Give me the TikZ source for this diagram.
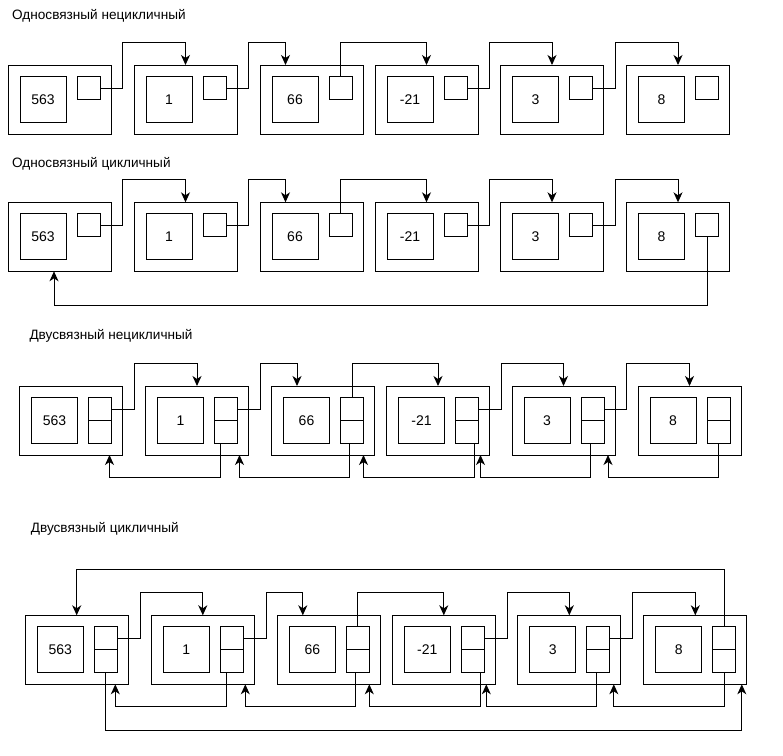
\documentclass[tikz,border=0pt]{standalone}
\usepackage{fontspec}
\setmainfont{Liberation Sans}
\usetikzlibrary{arrows.meta}
\tikzset{
 outerbox/.style={draw=black, line width=1pt, minimum width=103pt, minimum height=69pt, inner sep=0pt, outer sep=0pt, anchor=north west},
 valbox/.style={draw=black, line width=1pt, minimum width=46pt, minimum height=46pt, inner sep=0pt, outer sep=0pt, anchor=north west, font=\fontsize{14}{16}\selectfont},
 ptrbox/.style={draw=black, line width=1pt, minimum width=23pt, inner sep=0pt, outer sep=0pt, anchor=north west},
 divider/.style={draw=black, line width=1pt},
 link/.style={draw=black, line width=1pt, -{Stealth[length=10pt,width=9pt,inset=3pt]}},
 rowtitle/.style={anchor=base west, inner sep=0pt, font=\fontsize{13.6}{16}\selectfont},
}
% #1 row name, #2 x shift, #3 top y, #4 pointer height
\newcommand{\mkrow}[4]{%
 \foreach \L/\v [count=\i] in {8/563,134/1,260/66,375/-21,500.5/3,626.5/8}{
   \node[outerbox] (#1b\i) at (\L+#2, #3) {};
   \node[valbox] (#1v\i) at (\L+#2+12, #3+11.5) {\v};
   \node[ptrbox, minimum height=#4pt] (#1p\i) at (\L+#2+69, #3+11.5) {};
 }}
% forward links: #1 row, #2 yshift of start from pointer east
\newcommand{\mkforward}[2]{%
 \draw[link] ([yshift=#2pt]#1p1.east) -- ++(22.7,0) |- ([xshift=51.5pt,yshift=22.5pt]#1b2.north west) -- ([xshift=51.5pt]#1b2.north west);
 \draw[link] ([yshift=#2pt]#1p2.east) -- ++(22.7,0) |- ([xshift=25.5pt,yshift=22.5pt]#1b3.north west) -- ([xshift=25.5pt]#1b3.north west);
 \draw[link] (#1p3.north) |- ([xshift=51.5pt,yshift=22.5pt]#1b4.north west) -- ([xshift=51.5pt]#1b4.north west);
 \draw[link] ([yshift=#2pt]#1p4.east) -- ++(22.7,0) |- ([xshift=51.5pt,yshift=22.5pt]#1b5.north west) -- ([xshift=51.5pt]#1b5.north west);
 \draw[link] ([yshift=#2pt]#1p5.east) -- ++(22.7,0) |- ([xshift=51.5pt,yshift=22.5pt]#1b6.north west) -- ([xshift=51.5pt]#1b6.north west);
}
% backward links
\newcommand{\mkback}[1]{%
 \foreach \j/\o/\d [evaluate=\j as \k using int(\j-1)] in {2/6/13,3/9/9,4/19/11,5/9.5/9,6/11.5/7}{
   \draw[link] ([xshift=\o pt]#1p\j.south west) |- ([xshift=-\d pt,yshift=-22.5pt]#1b\k.south east) -- ([xshift=-\d pt]#1b\k.south east);
 }}
\begin{document}
\begin{tikzpicture}[x=1pt,y=-1pt]
\useasboundingbox (0,0) rectangle (783,755);
% titles
\node[rowtitle] (t1) at (12,19.3) {Односвязный нецикличный};
\node[rowtitle] (t2) at (12,167.3) {Односвязный цикличный};
\node[rowtitle] (t3) at (29.3,339.3) {Двусвязный нецикличный};
\node[rowtitle] (t4) at (30.7,532.5) {Двусвязный цикличный};
% row 1
\mkrow{a}{0}{65}{23}
\mkforward{a}{0}
% row 2
\mkrow{b}{0}{202.3}{23}
\mkforward{b}{0}
\draw[link] (bp6.south) |- ([xshift=46pt,yshift=-34pt]bb1.south west) -- ([xshift=46pt]bb1.south west);
% row 3
\mkrow{c}{11.5}{386}{46}
\foreach \i in {1,...,6}{\draw[divider] (cp\i.west) -- (cp\i.east);}
\mkforward{c}{11.5}
\mkback{c}
% row 4
\mkrow{d}{17.3}{615.3}{46}
\foreach \i in {1,...,6}{\draw[divider] (dp\i.west) -- (dp\i.east);}
\mkforward{d}{11.5}
\mkback{d}
\draw[link] (dp6.north) |- ([xshift=51.4pt,yshift=46pt]db1.north west) -- ([xshift=51.4pt]db1.north west);
\draw[link] (dp1.south) |- ([xshift=-5pt,yshift=-46pt]db6.south east) -- ([xshift=-5pt]db6.south east);
\end{tikzpicture}
\end{document}
